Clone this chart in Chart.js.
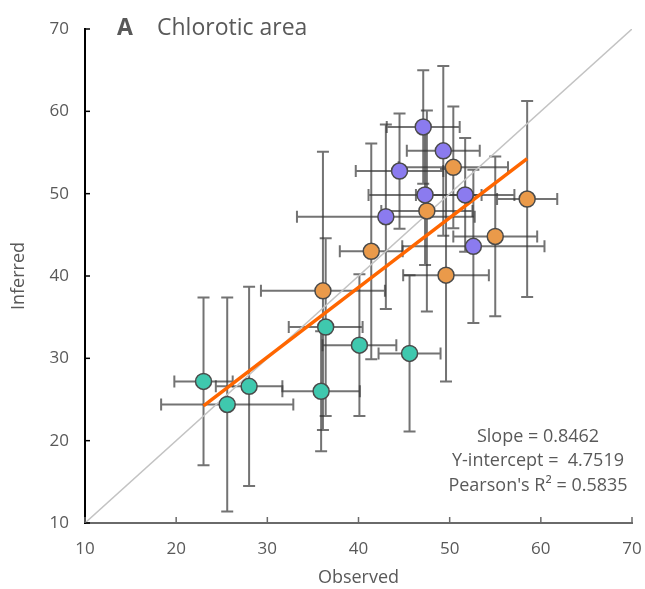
<!DOCTYPE html>
<html>
<head>
<meta charset="utf-8">
<script src="https://cdn.jsdelivr.net/npm/chart.js@4.4.1/dist/chart.umd.min.js"></script>
<style>
  html, body { margin: 0; padding: 0; background: #fff; }
  #wrap { width: 645px; height: 589px; }
</style>
</head>
<body>
<div id="wrap"><canvas id="myChart"></canvas></div>
<script>
// observed vs inferred chlorotic area, three groups of plants
obsTeal = [36.4, 40.1, 45.6, 23.0, 28.0, 25.6, 35.9]
infTeal = [33.8, 31.6, 30.6, 27.2, 26.6, 24.4, 26.0]
xErrTeal = [4.05, 4.05, 3.4, 3.2, 3.65, 7.25, 4.25]
yErrTeal = [10.8, 8.6, 9.5, 10.2, 12.1, 13.0, 7.3]

obsOrange = [50.4, 58.5, 47.5, 55.0, 41.4, 49.6, 36.1]
infOrange = [53.2, 49.35, 47.9, 44.8, 43.0, 40.1, 38.2]
xErrOrange = [6.0, 3.3, 5.0, 4.6, 3.45, 4.7, 6.8]
yErrOrange = [7.4, 11.9, 12.2, 9.7, 13.1, 12.9, 16.9]

obsPurple = [47.1, 49.3, 44.5, 47.3, 51.7, 43.0, 52.6]
infPurple = [58.1, 55.2, 52.75, 49.85, 49.85, 47.2, 43.6]
xErrPurple = [4.0, 4.0, 4.8, 6.2, 5.4, 9.75, 7.8]
yErrPurple = [6.9, 10.3, 7.0, 8.5, 6.9, 11.2, 9.3]

axisTicks = [10, 20, 30, 40, 50, 60, 70]

slope = 0.8462
intercept = 4.7519
r2 = 0.5835
fitRange = [23.0, 58.5]

function toPoints(xs, ys, xe, ye)
{
    pts = []
    for (i = 0; i < xs.length; i++)
    {
        pts.push({ x: xs[i], y: ys[i], xErr: xe[i], yErr: ye[i] })
    }
    return pts
}

fitLine = fitRange.map(function (x) { return { x: x, y: slope * x + intercept } })

var textColor = '#595959'
var fontFamily = "'Open Sans', 'Noto Sans', sans-serif"

// whiskers for each point, drawn under the markers
var errorBars = {
    id: 'errorBars',
    beforeDatasetsDraw: function (chart) {
        var ctx = chart.ctx
        var xs = chart.scales.x, ys = chart.scales.y
        var cap = 6
        ctx.save()
        ctx.strokeStyle = 'rgba(55,55,55,0.7)'
        ctx.lineWidth = 2
        chart.data.datasets.forEach(function (ds) {
            if (!ds.errorBars) return
            ds.data.forEach(function (p) {
                var cx = xs.getPixelForValue(p.x), cy = ys.getPixelForValue(p.y)
                var x0 = xs.getPixelForValue(p.x - p.xErr), x1 = xs.getPixelForValue(p.x + p.xErr)
                var y0 = ys.getPixelForValue(p.y - p.yErr), y1 = ys.getPixelForValue(p.y + p.yErr)
                ctx.beginPath()
                ctx.moveTo(x0, cy); ctx.lineTo(x1, cy)
                ctx.moveTo(x0, cy - cap); ctx.lineTo(x0, cy + cap)
                ctx.moveTo(x1, cy - cap); ctx.lineTo(x1, cy + cap)
                ctx.moveTo(cx, y0); ctx.lineTo(cx, y1)
                ctx.moveTo(cx - cap, y0); ctx.lineTo(cx + cap, y0)
                ctx.moveTo(cx - cap, y1); ctx.lineTo(cx + cap, y1)
                ctx.stroke()
            })
        })
        ctx.restore()
    }
}

// inward tick marks, axis titles, panel title and fit statistics
var decorations = {
    id: 'decorations',
    afterDraw: function (chart) {
        var ctx = chart.ctx
        var xs = chart.scales.x, ys = chart.scales.y
        var area = chart.chartArea
        ctx.save()
        ctx.lineWidth = 1.5
        ctx.strokeStyle = '#000'
        axisTicks.forEach(function (v) {
            var py = ys.getPixelForValue(v)
            ctx.beginPath(); ctx.moveTo(area.left, py); ctx.lineTo(area.left + 5, py); ctx.stroke()
        })
        ctx.strokeStyle = '#6a6a6a'
        axisTicks.forEach(function (v) {
            var px = xs.getPixelForValue(v)
            ctx.beginPath(); ctx.moveTo(px, area.bottom); ctx.lineTo(px, area.bottom - 6); ctx.stroke()
        })

        ctx.fillStyle = textColor
        ctx.textBaseline = 'middle'
        ctx.textAlign = 'center'
        ctx.font = '18px ' + fontFamily
        ctx.fillText('Observed', (area.left + area.right) / 2, 578)
        ctx.save()
        ctx.translate(19, (area.top + area.bottom) / 2)
        ctx.rotate(-Math.PI / 2)
        ctx.fillText('Inferred', 0, 0)
        ctx.restore()

        ctx.textAlign = 'left'
        ctx.font = 'bold 23px ' + fontFamily
        ctx.fillText('A', 117, 28)
        ctx.font = '23px ' + fontFamily
        ctx.fillText('Chlorotic area', 157, 28)

        ctx.textAlign = 'center'
        ctx.font = '18px ' + fontFamily
        ctx.fillText('Slope = ' + slope.toFixed(4), 538, 437)
        ctx.fillText('Y-intercept =  ' + intercept.toFixed(4), 538, 461)
        ctx.fillText("Pearson's R\u00B2 = " + r2.toFixed(4), 538, 486)
        ctx.restore()
    }
}

var ctx = document.getElementById('myChart').getContext('2d')
var myChart = new Chart(ctx, {
    type: 'scatter',
    data: {
        datasets: [
        {
            label: 'Group 1',
            data: toPoints(obsTeal, infTeal, xErrTeal, yErrTeal),
            errorBars: true,
            backgroundColor: '#3fc8ae',
            borderColor: '#4a4a4a',
            borderWidth: 1.5,
            pointRadius: 8,
            order: 3
        },
        {
            label: 'Group 2',
            data: toPoints(obsOrange, infOrange, xErrOrange, yErrOrange),
            errorBars: true,
            backgroundColor: '#ea9a4a',
            borderColor: '#4a4a4a',
            borderWidth: 1.5,
            pointRadius: 8,
            order: 2
        },
        {
            label: 'Group 3',
            data: toPoints(obsPurple, infPurple, xErrPurple, yErrPurple),
            errorBars: true,
            backgroundColor: '#8b7bef',
            borderColor: '#4a4a4a',
            borderWidth: 1.5,
            pointRadius: 8,
            order: 1
        },
        {
            label: 'Fit',
            type: 'line',
            data: fitLine,
            borderColor: '#ff6600',
            borderWidth: 3.5,
            pointRadius: 0,
            order: 4
        },
        {
            label: '1:1',
            type: 'line',
            data: [{ x: 10, y: 10 }, { x: 70, y: 70 }],
            borderColor: '#c3c3c3',
            borderWidth: 1.5,
            pointRadius: 0,
            order: 5
        }]
    },
    options: {
        responsive: true,
        maintainAspectRatio: false,
        animation: false,
        layout: { padding: { top: 29, right: 13, left: 0, bottom: 0 } },
        plugins: {
            legend: { display: false },
            tooltip: { enabled: false }
        },
        scales: {
            x: {
                min: 10, max: 70,
                afterFit: function (scale) {
                    scale.height = 66
                    scale.paddingLeft = 0
                    scale.paddingRight = 0
                },
                afterBuildTicks: function (scale) { scale.ticks = axisTicks.map(function (v) { return { value: v } }) },
                grid: { display: false, drawTicks: false },
                border: { display: true, color: '#6a6a6a', width: 2 },
                ticks: { padding: 16, color: textColor, font: { size: 17, family: fontFamily } }
            },
            y: {
                min: 10, max: 70,
                afterFit: function (scale) {
                    scale.width = 85
                    scale.paddingTop = 0
                    scale.paddingBottom = 0
                },
                afterBuildTicks: function (scale) { scale.ticks = axisTicks.map(function (v) { return { value: v } }) },
                grid: { display: false, drawTicks: false },
                border: { display: true, color: '#000', width: 2 },
                ticks: { padding: 16, color: textColor, font: { size: 17, family: fontFamily } }
            }
        }
    },
    plugins: [errorBars, decorations]
});
</script>
</body>
</html>
